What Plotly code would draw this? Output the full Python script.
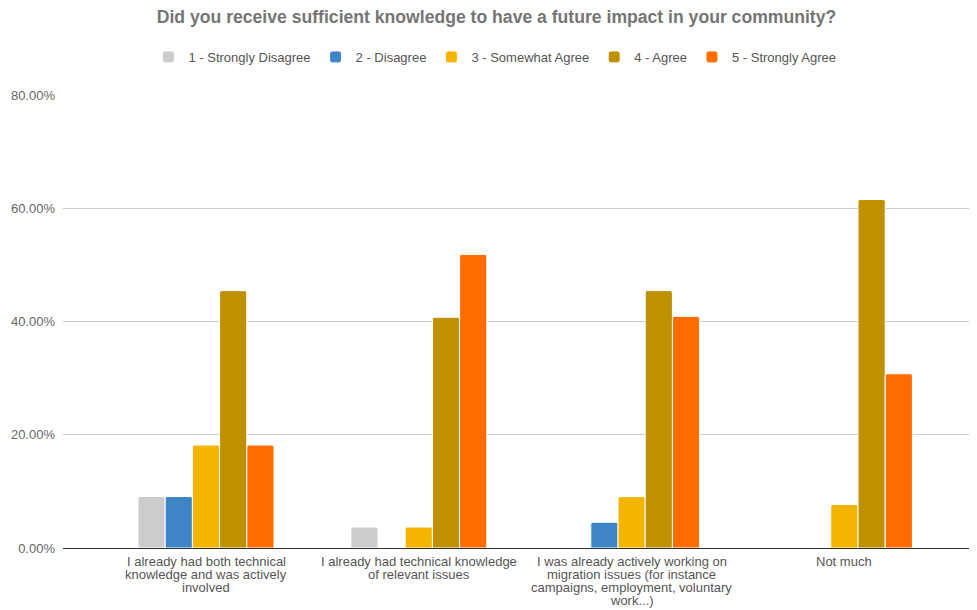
import plotly.graph_objects as go

categories = [
    "I already had both technical<br>knowledge and was actively<br>involved",
    "I already had technical knowledge<br>of relevant issues",
    "I was already actively working on<br>migration issues (for instance<br>campaigns, employment, voluntary<br>work...)",
    "Not much",
]
series_names = ["1 - Strongly Disagree", "2 - Disagree", "3 - Somewhat Agree", "4 - Agree", "5 - Strongly Agree"]
strongly_disagree = [0.0909, 0.0370, 0.0, 0.0]
disagree = [0.0909, 0.0, 0.0455, 0.0]
somewhat_agree = [0.1818, 0.0370, 0.0909, 0.0769]
agree = [0.4545, 0.4074, 0.4545, 0.6154]
strongly_agree = [0.1818, 0.5185, 0.4091, 0.3077]
colors = ["#cccccc", "#3d85c6", "#f4b400", "#bf9000", "#ff6d01"]
y_ticks = [0, 0.2, 0.4, 0.6, 0.8]

fig = go.Figure()
for name, vals, c in zip(series_names, [strongly_disagree, disagree, somewhat_agree, agree, strongly_agree], colors):
    fig.add_trace(go.Bar(x=categories, y=vals, name=name,
                         marker=dict(color=c, line=dict(color="white", width=1))))

# x category labels as annotations (tighter line spacing like the reference)
annotations = []
for cat in categories:
    for i, line in enumerate(cat.split("<br>")):
        annotations.append(dict(x=cat, xref="x", y=0, yref="paper", text=line,
                                showarrow=False, xanchor="center", yanchor="middle",
                                yshift=-(13.7 + 13 * i),
                                font=dict(size=13, color="#555555")))

# the page body adds an 8px offset; margins compensate for it
fig.update_layout(
    width=977, height=610,
    barmode="group", bargap=0.361, bargroupgap=0.0, barcornerradius=2,
    paper_bgcolor="white", plot_bgcolor="white",
    margin=dict(l=55, r=8, t=87, b=70),
    font=dict(family="Liberation Sans, Arial, sans-serif", size=13, color="#666666"),
    title=dict(text="<b>Did you receive sufficient knowledge to have a future impact in your community?</b>",
               x=0.5, xanchor="center", y=1 - 9 / 610, yanchor="middle",
               font=dict(size=17.6, color="#757575")),
    legend=dict(orientation="h", x=0.4726, xanchor="center", y=1.084, yanchor="middle",
                font=dict(size=13, color="#555555"), itemwidth=30, traceorder="normal"),
    xaxis=dict(showline=True, linecolor="#333333", linewidth=1, ticks="", automargin=False,
               showticklabels=False, showgrid=False, range=[-0.672, 3.623]),
    yaxis=dict(range=[0, 0.8], tickvals=y_ticks, tickformat=".2%", showgrid=True, automargin=False,
               gridcolor="#cccccc", zeroline=False, ticks="", ticklabelstandoff=7,
               tickfont=dict(size=13, color="#666666")),
    annotations=annotations,
)
fig.write_html("out.html")
